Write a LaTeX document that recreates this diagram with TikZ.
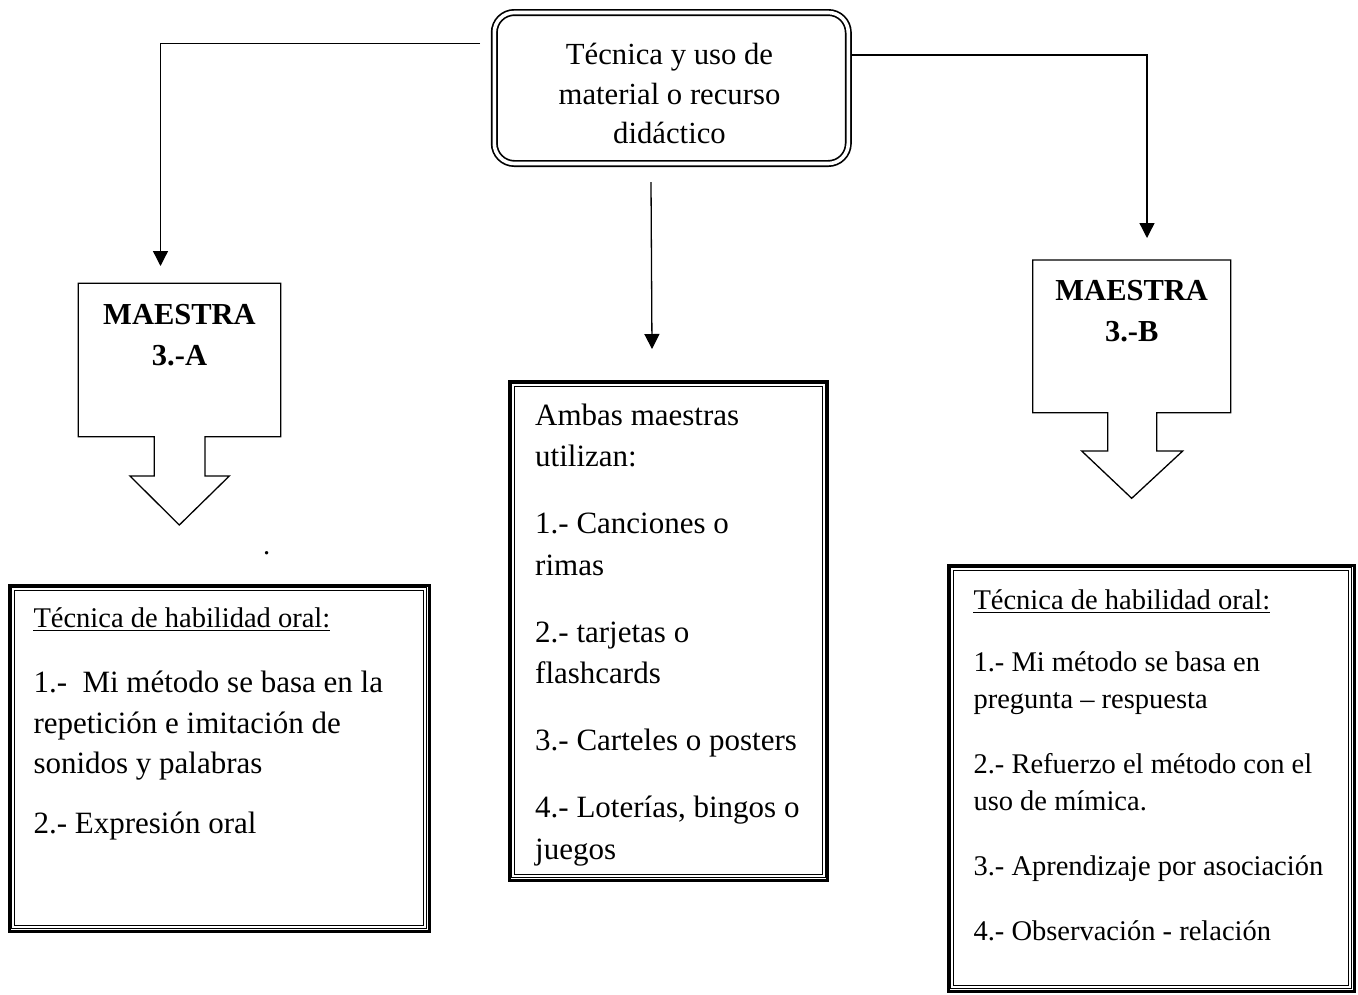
\documentclass[tikz,border=0pt]{standalone}
\usepackage{fontspec}
\setmainfont{Liberation Serif}
\usetikzlibrary{arrows.meta}
\newcommand\fntTop{\fontsize{30.7}{36}\selectfont}
\newcommand\fntItem{\fontsize{31}{36}\selectfont}
\newcommand\fntSm{\fontsize{28.5}{34}\selectfont}
\newcommand\fntBold{\fontsize{30.5}{36}\selectfont\bfseries}
\tikzset{
  conn/.style={line width=1.3pt},
  arr/.style={conn,-{Triangle[length=15pt,width=15pt]}},
  bigarrow/.style={line width=1.3pt, line join=miter},
  tline/.style={anchor=base west, inner sep=0pt},
  cline/.style={anchor=base, inner sep=0pt},
  tribox/.style={draw, line width=3pt, inner sep=0pt, rectangle},
  thinline/.style={line width=1pt},
  rbox/.style={draw, rectangle, rounded corners=20pt, double, double distance=3.6pt, line width=1.7pt, inner sep=0pt},
  uline/.style={line width=1.2pt},
}
\newcommand\innerlines[1]{%
  \draw[thinline] ([shift={(4,4)}]#1.north west) rectangle ([shift={(-4,-4)}]#1.south east);
  \draw[thinline] ([shift={(6.8,6.8)}]#1.north west) rectangle ([shift={(-6.8,-6.8)}]#1.south east);}
\begin{document}
\begin{tikzpicture}[x=1pt,y=-1pt]
\useasboundingbox[fill=white] (0,0) rectangle (1358,994);

% top rounded box
\node[rbox, minimum width=354pt, minimum height=151pt] (top) at (671.3,88) {};
\node[cline, font=\fntTop] (t1) at (669.5,64) {Técnica y uso de};
\node[cline, font=\fntTop] (t2) at (669.5,104) {material o recurso};
\node[cline, font=\fntTop] (t3) at (669.5,143) {didáctico};

% connectors
\coordinate (lstart) at (480,43.5);
\coordinate (ltip) at (160.5,266);
\coordinate (rstart) at (850.7,55);
\coordinate (rtip) at (1147,238);
\coordinate (cstart) at (651,182);
\coordinate (ctip) at (652,349);
\draw[arr] (lstart) -| (ltip);
\draw[arr] (rstart) -| (rtip);
\draw[arr] (cstart) -- (ctip);

% MAESTRA A block arrow
\draw[bigarrow] (78.3,283.3) -- (280.7,283.3) -- (280.7,436.7) -- (205,436.7) -- (205,476)
  -- (229.3,476) -- (179.3,525) -- (130,476) -- (154.3,476) -- (154.3,436.7) -- (78.3,436.7) -- cycle;
\node[cline, font=\fntBold] (ma1) at (179.5,324) {MAESTRA};
\node[cline, font=\fntBold] (ma2) at (179.5,365) {3.-A};

% MAESTRA B block arrow
\draw[bigarrow] (1032.7,260) -- (1230.7,260) -- (1230.7,412.7) -- (1156.7,412.7) -- (1156.7,451)
  -- (1182.7,451) -- (1131.7,498.3) -- (1081.7,451) -- (1107.7,451) -- (1107.7,412.7) -- (1032.7,412.7) -- cycle;
\node[cline, font=\fntBold] (mb1) at (1131.7,300) {MAESTRA};
\node[cline, font=\fntBold] (mb2) at (1131.7,341) {3.-B};

% stray period
\node[tline, font=\fntSm] (dot) at (263,554) {.};

% left box
\node[tribox, minimum width=420pt, minimum height=346pt] (L) at (219,758) {};
\innerlines{L}
\node[tline, font=\fntSm] (lt) at (33.3,627) {Técnica de habilidad oral:};
\draw[uline] ([yshift=-3.5pt]lt.base west) -- ([yshift=-3.5pt]lt.base east);
\node[tline, font=\fntItem] (l1) at (33.3,692) {1.-\ \ Mi método se basa en la};
\node[tline, font=\fntItem] (l2) at (33.3,733) {repetición e imitación de};
\node[tline, font=\fntItem] (l3) at (33.3,773) {sonidos y palabras};
\node[tline, font=\fntItem] (l4) at (33.3,833) {2.- Expresión oral};

% center box
\node[tribox, minimum width=318.5pt, minimum height=499pt] (C) at (668.25,630.5) {};
\innerlines{C}
\node[tline, font=\fntItem] (c1) at (535,425) {Ambas maestras};
\node[tline, font=\fntItem] (c2) at (535,466) {utilizan:};
\node[tline, font=\fntItem] (c3) at (535,533) {1.- Canciones o};
\node[tline, font=\fntItem] (c4) at (535,575) {rimas};
\node[tline, font=\fntItem] (c5) at (535,642) {2.- tarjetas o};
\node[tline, font=\fntItem] (c6) at (535,683) {flashcards};
\node[tline, font=\fntItem] (c7) at (535,750) {3.- Carteles o posters};
\node[tline, font=\fntItem] (c8) at (535,817) {4.- Loterías, bingos o};
\node[tline, font=\fntItem] (c9) at (535,859) {juegos};

% right box
\node[tribox, minimum width=406pt, minimum height=426pt] (R) at (1151,778) {};
\innerlines{R}
\node[tline, font=\fntSm] (rt) at (973.3,609) {Técnica de habilidad oral:};
\draw[uline] ([yshift=-3.5pt]rt.base west) -- ([yshift=-3.5pt]rt.base east);
\node[tline, font=\fntSm] (r1) at (973.3,671) {1.- Mi método se basa en};
\node[tline, font=\fntSm] (r2) at (973.3,708) {pregunta – respuesta};
\node[tline, font=\fntSm] (r3) at (973.3,773) {2.- Refuerzo el método con el};
\node[tline, font=\fntSm] (r4) at (973.3,810) {uso de mímica.};
\node[tline, font=\fntSm] (r5) at (973.3,875) {3.- Aprendizaje por asociación};
\node[tline, font=\fntSm] (r6) at (973.3,940) {4.- Observación - relación};
\end{tikzpicture}
\end{document}
